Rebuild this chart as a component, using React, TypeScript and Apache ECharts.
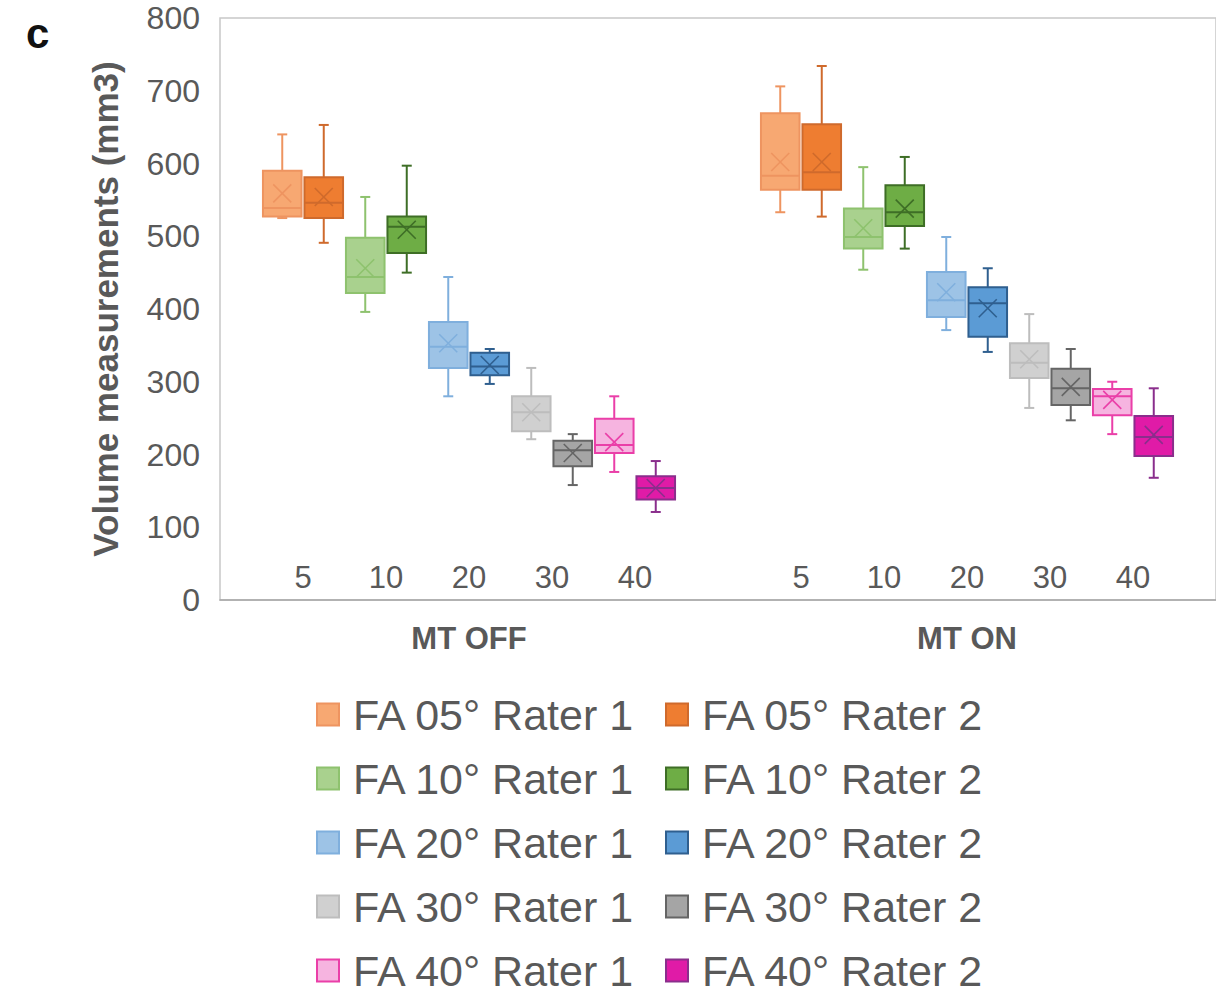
import React, { useEffect, useRef } from 'react';
import * as echarts from 'echarts';

const groups = ['MT OFF', 'MT ON'];
const faLabels = ['5', '10', '20', '30', '40'];
const seriesNames = [
  'FA 05° Rater 1', 'FA 05° Rater 2',
  'FA 10° Rater 1', 'FA 10° Rater 2',
  'FA 20° Rater 1', 'FA 20° Rater 2',
  'FA 30° Rater 1', 'FA 30° Rater 2',
  'FA 40° Rater 1', 'FA 40° Rater 2',
];
const fillColors = [
  '#F7A872', '#EE7D31',
  '#A9D18E', '#6EAD45',
  '#9DC3E6', '#5B9BD5',
  '#D0D0D0', '#A5A5A5',
  '#F6B4E0', '#E01BA7',
];
const strokeColors = [
  '#EE9460', '#CF6A2C',
  '#8EC26E', '#3E6E26',
  '#7FAFDD', '#2F5F8F',
  '#BDBDBD', '#656565',
  '#EA3FA8', '#8A2E8C',
];

// Each entry per group (MT OFF, MT ON): [min, q1, median, q3, max, mean]
const fa05Rater1 = [[525, 527, 539, 590, 640, 559], [533, 564, 583, 669, 706, 602]];
const fa05Rater2 = [[491, 525, 546, 581, 653, 554], [527, 564, 588, 654, 734, 602]];
const fa10Rater1 = [[396, 422, 444, 498, 554, 456], [454, 483, 499, 538, 595, 511]];
const fa10Rater2 = [[450, 477, 513, 527, 597, 509], [483, 514, 533, 570, 609, 538]];
const fa20Rater1 = [[280, 319, 348, 382, 444, 353], [371, 389, 412, 451, 499, 423]];
const fa20Rater2 = [[297, 309, 321, 340, 345, 323], [341, 362, 408, 430, 456, 401]];
const fa30Rater1 = [[221, 232, 258, 280, 319, 258], [264, 305, 326, 353, 393, 331]];
const fa30Rater2 = [[158, 184, 206, 219, 228, 202], [247, 268, 291, 318, 345, 293]];
const fa40Rater1 = [[176, 202, 213, 249, 280, 217], [228, 254, 280, 290, 300, 275]];
const fa40Rater2 = [[121, 138, 154, 170, 191, 154], [168, 198, 224, 253, 291, 227]];

const seriesValues = [
  fa05Rater1, fa05Rater2, fa10Rater1, fa10Rater2, fa20Rater1,
  fa20Rater2, fa30Rater1, fa30Rater2, fa40Rater1, fa40Rater2,
];

const FONT = 'Liberation Sans, Arial, Helvetica, sans-serif';
const GREY = '#595959';

export default function App() {
  const ref = useRef<HTMLDivElement>(null);

  useEffect(() => {
    const chart = echarts.init(ref.current as HTMLDivElement, null, { renderer: 'svg' });
    const nSlots = 12;
    const series = seriesValues.map((vals, si) => ({
      type: 'custom',
      name: seriesNames[si],
      itemStyle: { color: fillColors[si], borderColor: strokeColors[si], borderWidth: 2 },
      encode: { x: 0, y: [1, 2, 3, 4, 5, 6] },
      data: vals.map((v, gi) => [gi, ...v]),
      renderItem: (params: any, api: any) => {
        const g = api.value(0);
        const slot = api.size([1, 0])[0] / nSlots;
        const cx = api.coord([g, 0])[0] + (si - 4.5) * slot;
        const yOf = (k: number) => api.coord([g, api.value(k)])[1];
        const yMin = yOf(1);
        const yQ1 = yOf(2);
        const yMed = yOf(3);
        const yQ3 = yOf(4);
        const yMax = yOf(5);
        const yMean = yOf(6);
        const bw = slot * 0.93;
        const cap = 5;
        const xs = 9;
        const stroke = strokeColors[si];
        const ls = { stroke, lineWidth: 2 };
        const children: any[] = [
          { type: 'line', shape: { x1: cx, y1: yMax, x2: cx, y2: yQ3 }, style: ls },
          { type: 'line', shape: { x1: cx, y1: yQ1, x2: cx, y2: yMin }, style: ls },
          { type: 'line', shape: { x1: cx - cap, y1: yMax, x2: cx + cap, y2: yMax }, style: ls },
          { type: 'line', shape: { x1: cx - cap, y1: yMin, x2: cx + cap, y2: yMin }, style: ls },
          {
            type: 'rect',
            shape: { x: cx - bw / 2, y: yQ3, width: bw, height: yQ1 - yQ3 },
            style: { fill: fillColors[si], stroke, lineWidth: 2 },
          },
          { type: 'line', shape: { x1: cx - bw / 2, y1: yMed, x2: cx + bw / 2, y2: yMed }, style: ls },
          { type: 'line', shape: { x1: cx - xs, y1: yMean - xs, x2: cx + xs, y2: yMean + xs }, style: { stroke, lineWidth: 1.6 } },
          { type: 'line', shape: { x1: cx - xs, y1: yMean + xs, x2: cx + xs, y2: yMean - xs }, style: { stroke, lineWidth: 1.6 } },
        ];
        if (si % 2 === 1) {
          children.push({
            type: 'text',
            style: {
              text: faLabels[(si - 1) / 2],
              x: cx - slot / 2,
              y: api.coord([g, 0])[1] - 23,
              align: 'center',
              verticalAlign: 'middle',
              fontSize: 31,
              fontFamily: FONT,
              fill: GREY,
            },
          });
        }
        return { type: 'group', children };
      },
    }));

    const legendCommon = {
      orient: 'vertical',
      top: 693,
      height: 340,
      padding: 0,
      itemWidth: 22,
      itemHeight: 22,
      itemGap: 21,
      icon: 'rect',
      selectedMode: false,
      textStyle: {
        fontSize: 43,
        lineHeight: 43,
        fontFamily: FONT,
        color: GREY,
        padding: [0, 0, 0, 9],
      },
    };

    chart.setOption({
      animation: false,
      backgroundColor: '#ffffff',
      textStyle: { fontFamily: FONT },
      graphic: [
        {
          type: 'text',
          left: 26,
          top: 12,
          style: { text: 'c', fontSize: 42, fontWeight: 'bold', fontFamily: FONT, fill: '#111111' },
        },
      ],
      grid: {
        left: 220,
        right: -1,
        top: 18,
        bottom: 394,
        show: true,
        borderColor: '#C8C8C8',
        borderWidth: 1.5,
      },
      legend: [
        { ...legendCommon, left: 316, data: seriesNames.filter((_, i) => i % 2 === 0) },
        { ...legendCommon, left: 665, data: seriesNames.filter((_, i) => i % 2 === 1) },
      ],
      xAxis: {
        type: 'category',
        data: groups,
        axisTick: { show: false },
        axisLine: { lineStyle: { color: '#A6A6A6', width: 1.5 } },
        axisLabel: { fontSize: 31, fontWeight: 'bold', color: GREY, margin: 23, fontFamily: FONT },
      },
      yAxis: {
        type: 'value',
        min: 0,
        max: 800,
        interval: 100,
        name: 'Volume measurements (mm3)',
        nameLocation: 'middle',
        nameGap: 97,
        nameTextStyle: { fontSize: 35, fontWeight: 'bold', color: GREY, fontFamily: FONT },
        splitLine: { show: false },
        axisLine: { show: false },
        axisTick: { show: false },
        axisLabel: { fontSize: 32, color: GREY, margin: 20, fontFamily: FONT },
      },
      series,
    } as any);

    return () => {
      chart.dispose();
    };
  }, []);

  return (
    <div
      ref={ref}
      style={{ position: 'absolute', left: 0, top: 0, width: 1216, height: 994 }}
    />
  );
}
